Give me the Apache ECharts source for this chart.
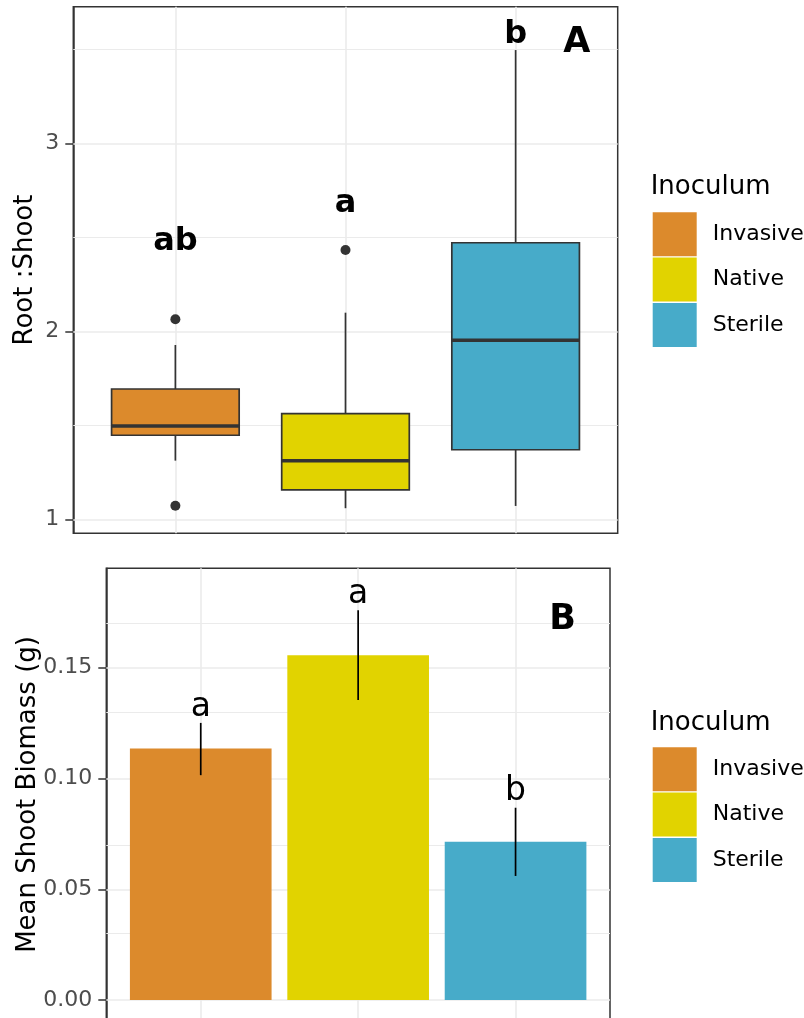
<!DOCTYPE html>
<html><head><meta charset="utf-8">
<script src="https://cdn.jsdelivr.net/npm/echarts@6/dist/echarts.min.js"></script>
<style>html,body{margin:0;padding:0;background:#fff}#c{width:804px;height:1018px}</style>
</head><body><div id="c"></div>
<script>
// ---------- data ----------
const categories = ['Invasive', 'Native', 'Sterile'];
const colors = ['#DC8A2C', '#E1D300', '#47ABC9'];

// Panel A: Root:Shoot boxplot statistics
const boxLow    = [1.312, 1.059, 1.071];
const boxQ1     = [1.447, 1.156, 1.370];
const boxMedian = [1.496, 1.312, 1.952];
const boxQ3     = [1.693, 1.562, 2.471];
const boxHigh   = [1.927, 2.099, 3.496];
const outliers  = [[2.064, 1.072], [2.432], []];
const lettersA  = ['ab', 'a', 'b'];
const letterYA  = [2.5, 2.7, 3.6];
const ticksA    = [1, 2, 3];
const minorA    = [1.5, 2.5, 3.5];

// Panel B: Mean shoot biomass (g)
const meanBiomass = [0.1136, 0.1557, 0.0714];
const errLow      = [0.1015, 0.1354, 0.0560];
const errHigh     = [0.1251, 0.1760, 0.0868];
const lettersB    = ['a', 'a', 'b'];
const letterYB    = [0.133, 0.184, 0.095];
const ticksB      = [0, 0.05, 0.10, 0.15];
const minorB      = [0.025, 0.075, 0.125, 0.175];

// ---------- styling ----------
const FONT = '"DejaVu Sans", Verdana, sans-serif';
const GRID_C = '#EBEBEB';
const DARK = '#333333';

function gridLines(xi, major, minor) {
  const d = [];
  major.forEach(v => d.push({ yAxis: v, lineStyle: { color: GRID_C, width: 1.6, type: 'solid' } }));
  minor.forEach(v => d.push({ yAxis: v, lineStyle: { color: GRID_C, width: 1.1, type: 'solid' } }));
  categories.forEach((c, i) => d.push({ xAxis: i + 1, lineStyle: { color: GRID_C, width: 1.6, type: 'solid' } }));
  return {
    type: 'line', name: 'grid' + xi, xAxisIndex: xi, yAxisIndex: xi, data: [], silent: true, z: 1,
    markLine: { silent: true, z: 1, zlevel: 0, symbol: ['none', 'none'], label: { show: false }, emphasis: { disabled: true }, animation: false, data: d }
  };
}

function boxRender(i) {
  return function (params, api) {
    const x = api.value(0);
    const lo = api.value(1), q1 = api.value(2), md = api.value(3), q3 = api.value(4), hi = api.value(5), ly = api.value(6);
    const hw = 0.375;
    const tl = api.coord([x - hw, q3]), br = api.coord([x + hw, q1]);
    const mL = api.coord([x - hw, md]), mR = api.coord([x + hw, md]);
    const pHi = api.coord([x, hi]), pQ3 = api.coord([x, q3]), pQ1 = api.coord([x, q1]), pLo = api.coord([x, lo]);
    const lp = api.coord([x, ly]);
    return {
      type: 'group', children: [
        { type: 'line', shape: { x1: pHi[0], y1: pHi[1], x2: pQ3[0], y2: pQ3[1] }, style: { stroke: DARK, lineWidth: 1.7 } },
        { type: 'line', shape: { x1: pQ1[0], y1: pQ1[1], x2: pLo[0], y2: pLo[1] }, style: { stroke: DARK, lineWidth: 1.7 } },
        { type: 'rect', shape: { x: tl[0], y: tl[1], width: br[0] - tl[0], height: br[1] - tl[1] }, style: { fill: colors[i], stroke: DARK, lineWidth: 1.7 } },
        { type: 'line', shape: { x1: mL[0], y1: mL[1], x2: mR[0], y2: mR[1] }, style: { stroke: DARK, lineWidth: 3.5 } },
        { type: 'text', x: lp[0], y: lp[1] + 4, style: { text: lettersA[i], fill: '#000', fontSize: 32, fontWeight: 'bold', fontFamily: FONT, align: 'center', verticalAlign: 'middle' } }
      ]
    };
  };
}

function barRender(i) {
  return function (params, api) {
    const x = api.value(0), m = api.value(1), lo = api.value(2), hi = api.value(3), ly = api.value(4);
    const hw = 0.45;
    const b0 = api.coord([x - hw, 0]), b1 = api.coord([x + hw, m]);
    const eLo = api.coord([x, lo]), eHi = api.coord([x, hi]);
    const lp = api.coord([x, ly]);
    return {
      type: 'group', children: [
        { type: 'rect', shape: { x: b0[0], y: b1[1], width: b1[0] - b0[0], height: b0[1] - b1[1] }, style: { fill: colors[i] } },
        { type: 'line', shape: { x1: eLo[0], y1: eLo[1], x2: eHi[0], y2: eHi[1] }, style: { stroke: '#000', lineWidth: 1.7 } },
        { type: 'text', x: lp[0], y: lp[1] + 2, style: { text: lettersB[i], fill: '#000', fontSize: 33, fontFamily: FONT, align: 'center', verticalAlign: 'middle' } }
      ]
    };
  };
}

const series = [gridLines(0, ticksA, minorA), gridLines(1, ticksB, minorB)];
categories.forEach((c, i) => {
  series.push({
    type: 'custom', name: c, xAxisIndex: 0, yAxisIndex: 0, z: 10, silent: true,
    itemStyle: { color: colors[i] },
    encode: { x: 0, y: 1 },
    data: [[i + 1, boxLow[i], boxQ1[i], boxMedian[i], boxQ3[i], boxHigh[i], letterYA[i]]],
    renderItem: boxRender(i)
  });
});
series.push({
  type: 'scatter', name: 'outliers', xAxisIndex: 0, yAxisIndex: 0, z: 11, silent: true,
  symbol: 'circle', symbolSize: 10, itemStyle: { color: DARK, opacity: 1 },
  data: outliers.flatMap((arr, i) => arr.map(v => [i + 1, v]))
});
categories.forEach((c, i) => {
  series.push({
    type: 'custom', name: c, xAxisIndex: 1, yAxisIndex: 1, z: 10, silent: true,
    itemStyle: { color: colors[i] },
    encode: { x: 0, y: 1 },
    data: [[i + 1, meanBiomass[i], errLow[i], errHigh[i], letterYB[i]]],
    renderItem: barRender(i)
  });
});

function yAxis(gi, min, max, name, nameGap, ticks, fmt) {
  return {
    type: 'value', gridIndex: gi, min: min, max: max,
    name: name, nameLocation: 'middle', nameGap: nameGap, nameMoveOverlap: false,
    nameTextStyle: { fontSize: 26, color: '#000', fontFamily: FONT },
    axisLine: { show: true, lineStyle: { color: DARK, width: 1.5 } },
    axisTick: { show: true, length: 8, lineStyle: { color: DARK, width: 1.5 }, customValues: ticks },
    axisLabel: { show: true, customValues: ticks, fontSize: 22, color: '#4D4D4D', fontFamily: FONT, margin: 14, formatter: fmt },
    splitLine: { show: false }, minorTick: { show: false }, minorSplitLine: { show: false }
  };
}

const legendCommon = {
  orient: 'vertical', left: 652.7, itemWidth: 44, itemHeight: 44, itemGap: 1.3, padding: 0,
  icon: 'rect', selectedMode: false, data: categories,
  textStyle: { fontSize: 22, color: '#000', fontFamily: FONT, padding: [0, 0, 0, 11] }
};

const option = {
  animation: false,
  backgroundColor: '#fff',
  grid: [
    { left: 73.3, top: 6.7, width: 544.4, height: 526.6, show: true, borderColor: DARK, borderWidth: 1.5, backgroundColor: 'transparent', containLabel: false, outerBoundsMode: 'none' },
    { left: 106.3, top: 568.3, width: 503.7, height: 452.3, show: true, borderColor: DARK, borderWidth: 1.5, backgroundColor: 'transparent', containLabel: false, outerBoundsMode: 'none' }
  ],
  xAxis: [
    { type: 'value', gridIndex: 0, min: 0.4, max: 3.6, show: false },
    { type: 'value', gridIndex: 1, min: 0.4, max: 3.6, show: false }
  ],
  yAxis: [
    yAxis(0, 0.9255, 3.7266, 'Root :Shoot', 35, ticksA, v => String(v)),
    yAxis(1, -0.0093, 0.1949, 'Mean Shoot Biomass (g)', 65, ticksB, v => v.toFixed(2))
  ],
  legend: [
    Object.assign({}, legendCommon, { top: 212.3 }),
    Object.assign({}, legendCommon, { top: 747.3 })
  ],
  graphic: [
    { type: 'text', z: 100, left: 650.7, top: 174, silent: true, style: { text: 'Inoculum', fontSize: 26, fill: '#000', fontFamily: FONT } },
    { type: 'text', z: 100, left: 650.7, top: 710, silent: true, style: { text: 'Inoculum', fontSize: 26, fill: '#000', fontFamily: FONT } },
    { type: 'text', z: 100, x: 576.7, y: 43, silent: true, style: { text: 'A', fontSize: 35, fontWeight: 'bold', fill: '#000', fontFamily: FONT, align: 'center', verticalAlign: 'middle' } },
    { type: 'text', z: 100, x: 562.7, y: 620, silent: true, style: { text: 'B', fontSize: 35, fontWeight: 'bold', fill: '#000', fontFamily: FONT, align: 'center', verticalAlign: 'middle' } }
  ],
  series: series
};

const chart = echarts.init(document.getElementById('c'), null, { renderer: 'canvas' });
chart.setOption(option);
</script>
</body></html>
